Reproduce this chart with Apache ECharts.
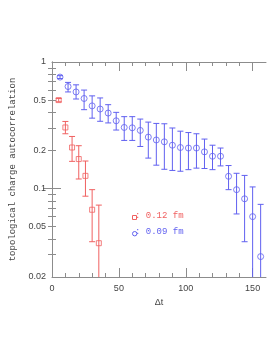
<!DOCTYPE html>
<html><head><meta charset="utf-8">
<script src="https://cdn.jsdelivr.net/npm/echarts@6/dist/echarts.min.js"></script>
<style>html,body{margin:0;padding:0;background:#fff}#c{width:274px;height:355px}</style>
</head><body><div id="c"></div>
<script>
// ---- data ----
const blueT  = [6,12,18,24,30,36,42,48,54,60,66,72,78,84,90,96,102,108,114,120,126,132,138,144,150,156];
const blueY  = [0.76,0.64,0.58,0.515,0.45,0.425,0.395,0.343,0.304,0.302,0.288,0.255,0.242,0.234,0.220,0.211,0.209,0.209,0.195,0.180,0.180,0.125,0.098,0.083,0.060,0.029];
const blueHi = [0.78,0.69,0.66,0.60,0.54,0.52,0.46,0.40,0.37,0.37,0.354,0.335,0.327,0.325,0.301,0.284,0.277,0.271,0.246,0.220,0.209,0.152,0.132,0.127,0.103,0.075];
const blueLo = [0.74,0.58,0.51,0.42,0.36,0.34,0.33,0.29,0.24,0.24,0.215,0.174,0.153,0.142,0.139,0.137,0.141,0.145,0.144,0.141,0.151,0.098,0.063,0.038,0.01,0.01];
const redT  = [5,10,15,20,25,30,35];
const redY  = [0.50,0.304,0.211,0.171,0.126,0.068,0.037];
const redHi = [0.515,0.339,0.258,0.218,0.165,0.098,0.074];
const redLo = [0.485,0.271,0.164,0.119,0.087,0.038,0.01];
const xLabels = [0,50,100,150];
const xMinor = [10,20,30,40,60,70,80,90,110,120,130,140];
const xMajor = [50,100,150];
const yLabels = [0.02,0.05,0.1,0.2,0.5,1];
const yMinor = [0.03,0.04,0.05,0.06,0.07,0.08,0.09,0.2,0.3,0.4,0.5,0.6,0.7,0.8,0.9];
const yMajor = [0.1];
const legendRed = ': 0.12 fm';
const legendBlue = ': 0.09 fm';

const RED = '#f06060', BLUE = '#6060f0', AX = '#8c8c8c';
const mono = '"Liberation Mono","DejaVu Sans Mono",monospace';
const sans = '"Liberation Sans",Arial,sans-serif';

function xAx(pos, ticks, len, showLabel, showLine){
  return {type:'value', position:pos, min:0, max:160,
    axisLine:{show:showLine, lineStyle:{color:AX, width:1}},
    axisTick:{show:true, inside:true, length:len, customValues:ticks, lineStyle:{color:AX}},
    axisLabel:{show:showLabel, customValues:xLabels, color:'#444', fontFamily:sans, fontSize:9, margin:7},
    splitLine:{show:false}};
}
function yAx(pos, ticks, len, showLabel, showLine){
  return {type:'log', logBase:10, position:pos, min:0.02, max:1,
    axisLine:{show:showLine, lineStyle:{color:AX, width:1}},
    axisTick:{show:true, inside:true, length:len, customValues:ticks, lineStyle:{color:AX}},
    axisLabel:{show:showLabel, customValues:yLabels, color:'#444', fontFamily:sans, fontSize:9, margin:6,
      formatter:v=>String(+v.toPrecision(3))},
    splitLine:{show:false}};
}
function errSeries(T, lo, hi, color){
  return {type:'custom', xAxisIndex:0, yAxisIndex:0, clip:true, silent:true,
    data:T.map((t,i)=>[t,lo[i],hi[i]]),
    renderItem:(params, api)=>{
      const x = api.value(0);
      const a = api.coord([x, api.value(1)]);
      const b = api.coord([x, api.value(2)]);
      const w = 3;
      const st = {stroke:color, lineWidth:1, fill:null};
      return {type:'group', children:[
        {type:'line', shape:{x1:a[0],y1:a[1],x2:b[0],y2:b[1]}, style:st},
        {type:'line', shape:{x1:a[0]-w,y1:a[1],x2:a[0]+w,y2:a[1]}, style:st},
        {type:'line', shape:{x1:b[0]-w,y1:b[1],x2:b[0]+w,y2:b[1]}, style:st}
      ]};
    }};
}

const chart = echarts.init(document.getElementById('c'), null, {renderer:'canvas'});
chart.setOption({
  animation:false,
  backgroundColor:'#fff',
  grid:{left:51, right:8, top:62, bottom:78, containLabel:false},
  xAxis:[
    Object.assign(xAx('bottom', xMinor, 4, true, true), {name:'Δt', nameLocation:'middle', nameGap:20,
      nameTextStyle:{color:'#444', fontFamily:sans, fontSize:9}}),
    xAx('bottom', xMajor, 9, false, false),
    xAx('top', xMinor, 4, false, true),
    xAx('top', xMajor, 9, false, false)
  ],
  yAxis:[
    Object.assign(yAx('left', yMinor, 4, true, true), {name:'topological charge autocorrelation', nameLocation:'middle', nameGap:35,
      nameTextStyle:{color:'#444', fontFamily:mono, fontSize:9}}),
    yAx('left', yMajor, 9, false, false),
    yAx('right', yMinor, 4, false, true),
    yAx('right', yMajor, 9, false, false)
  ],
  series:[
    errSeries(blueT, blueLo, blueHi, BLUE),
    errSeries(redT, redLo, redHi, RED),
    {type:'scatter', xAxisIndex:0, yAxisIndex:0, symbol:'circle', symbolSize:6,
      itemStyle:{color:'rgba(0,0,0,0)', borderColor:BLUE, borderWidth:1},
      data:blueT.map((t,i)=>[t,blueY[i]])},
    {type:'scatter', xAxisIndex:0, yAxisIndex:0, symbol:'rect', symbolSize:5,
      itemStyle:{color:'rgba(0,0,0,0)', borderColor:RED, borderWidth:1},
      data:redT.map((t,i)=>[t,redY[i]])}
  ],
  graphic:[
    {type:'rect', left:130, top:213, shape:{width:4, height:4}, style:{fill:null, stroke:RED, lineWidth:1}},
    {type:'text', left:135, top:211, style:{text:legendRed, fill:RED, font:'9px '+mono}},
    {type:'circle', left:130, top:229, shape:{r:2.2}, style:{fill:null, stroke:BLUE, lineWidth:1}},
    {type:'text', left:135, top:227, style:{text:legendBlue, fill:BLUE, font:'9px '+mono}}
  ]
});
</script></body></html>
